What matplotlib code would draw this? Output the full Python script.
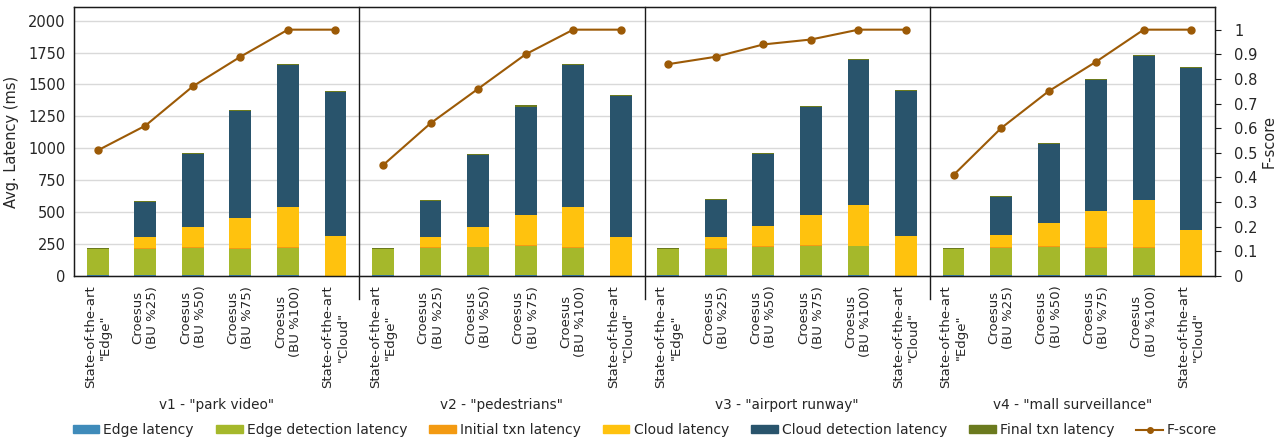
import numpy as np
import matplotlib.pyplot as plt
from matplotlib.patches import Patch
from matplotlib.lines import Line2D

plt.rcParams['font.family'] = ['DejaVu Sans']
plt.rcParams['font.size'] = 10

grupos = ['v1 - "park video"', 'v2 - "pedestrians"', 'v3 - "airport runway"', 'v4 - "mall surveillance"']
categorias = ['State-of-the-art\n"Edge"', 'Croesus\n(BU %25)', 'Croesus\n(BU %50)',
              'Croesus\n(BU %75)', 'Croesus\n(BU %100)', 'State-of-the-art\n"Cloud"']

# latencias (ms), 24 barras: 4 videos x 6 configuraciones
edge_lat = [5, 5, 5, 5, 5, 0,
            5, 5, 5, 5, 5, 0,
            5, 5, 5, 5, 5, 0,
            5, 5, 5, 5, 5, 0]
edge_det = [205, 210, 215, 210, 215, 0,
            205, 218, 220, 228, 215, 0,
            205, 207, 225, 230, 228, 0,
            205, 218, 222, 218, 217, 0]
init_txn = [0, 8, 8, 5, 8, 0,
            0, 5, 6, 7, 7, 0,
            0, 8, 6, 5, 5, 0,
            0, 5, 8, 5, 5, 0]
cloud_lat = [0, 80, 153, 237, 312, 313,
             0, 80, 155, 235, 313, 308,
             0, 83, 158, 240, 318, 313,
             0, 91, 183, 279, 368, 363]
cloud_det = [0, 280, 572, 838, 1110, 1126,
             0, 280, 562, 852, 1113, 1104,
             0, 290, 562, 847, 1133, 1136,
             0, 302, 613, 1028, 1126, 1266]
final_txn = [10, 7, 8, 7, 8, 8,
             8, 7, 8, 10, 8, 8,
             9, 8, 8, 7, 8, 8,
             7, 8, 9, 8, 8, 8]
fscore = [0.51, 0.61, 0.77, 0.89, 1.0, 1.0,
          0.45, 0.62, 0.76, 0.90, 1.0, 1.0,
          0.86, 0.89, 0.94, 0.96, 1.0, 1.0,
          0.41, 0.60, 0.75, 0.87, 1.0, 1.0]

series = [('Edge latency', edge_lat, '#3f8bba'),
          ('Edge detection latency', edge_det, '#a5b82b'),
          ('Initial txn latency', init_txn, '#f39a12'),
          ('Cloud latency', cloud_lat, '#ffc20e'),
          ('Cloud detection latency', cloud_det, '#29546c'),
          ('Final txn latency', final_txn, '#6b7a1e')]
color_f = '#9c5a06'
texto = '#262626'

n = len(fscore)
x = np.arange(n)

fig = plt.figure(figsize=(12.81, 4.38), dpi=100)
ax = fig.add_axes([74 / 1281, 1 - 276 / 438, (1215 - 74) / 1281, 269 / 438])

base = np.zeros(n)
for nombre, vals, col in series:
    vals = np.array(vals, dtype=float)
    ax.bar(x, vals, 0.46, bottom=base, color=col, label=nombre, zorder=2)
    base += vals

ax.set_xlim(-0.5, n - 0.5)
ax.set_ylim(0, 2107)
ax.set_yticks(np.arange(0, 2001, 250))
ax.yaxis.grid(True, color='#d9d9d9', linewidth=1, zorder=0)
ax.set_axisbelow(True)
ax.tick_params(axis='y', length=0, pad=6, labelcolor=texto, labelsize=10.5)
ax.set_ylabel('Avg. Latency (ms)', color=texto, fontsize=10.5)
ax.yaxis.set_label_coords(-55 / 1141, 0.5)

ax.set_xticks(x)
ax.set_xticklabels(categorias * 4, rotation=90, va='top', ha='center',
                   multialignment='center', color=texto, fontsize=9.5)
ax.tick_params(axis='x', length=0, pad=7)

for s in ax.spines.values():
    s.set_color('#1a1a1a')
    s.set_linewidth(1)

# separadores entre videos
for k in range(1, 4):
    xs = 6 * k - 0.5
    ax.plot([xs, xs], [-0.085, 1], transform=ax.get_xaxis_transform(),
            color='#1a1a1a', linewidth=1, clip_on=False, zorder=3)

for k, g in enumerate(grupos):
    ax.text(6 * k + 2.5, -0.48, g, transform=ax.get_xaxis_transform(),
            ha='center', va='center', color=texto, fontsize=9.8)

ax2 = ax.twinx()
# una linea de F-score por video
for k in range(4):
    ax2.plot(x[6 * k:6 * k + 6], fscore[6 * k:6 * k + 6], color=color_f,
             linewidth=1.5, marker='o', markersize=5, zorder=4)
ax2.set_ylim(0, 1.092)
ax2.set_yticks(np.arange(0, 1.01, 0.1))
ax2.set_yticklabels(['0'] + ['%.1f' % v for v in np.arange(0.1, 0.95, 0.1)] + ['1'])
ax2.tick_params(axis='y', length=4, color='#1a1a1a', labelcolor=texto, labelsize=10.5, pad=10)
ax2.set_ylabel('F-score', color=texto, fontsize=10.5, rotation=90)
ax2.yaxis.set_label_coords((1262 - 74) / 1141, 0.5)
for s in ax2.spines.values():
    s.set_color('#1a1a1a')

handles = [Patch(color=c, label=nm) for nm, _, c in series]
handles.append(Line2D([], [], color=color_f, linewidth=1.5, marker='o', markersize=4, label='F-score'))
fig.legend(handles=handles, loc='center', bbox_to_anchor=(645 / 1281, 1 - 430 / 438),
           ncol=7, frameon=False, fontsize=10, handlelength=1.9, handleheight=0.5,
           handletextpad=0.3, columnspacing=1.6, labelcolor=texto)

fig.savefig('out.png', dpi=100)
